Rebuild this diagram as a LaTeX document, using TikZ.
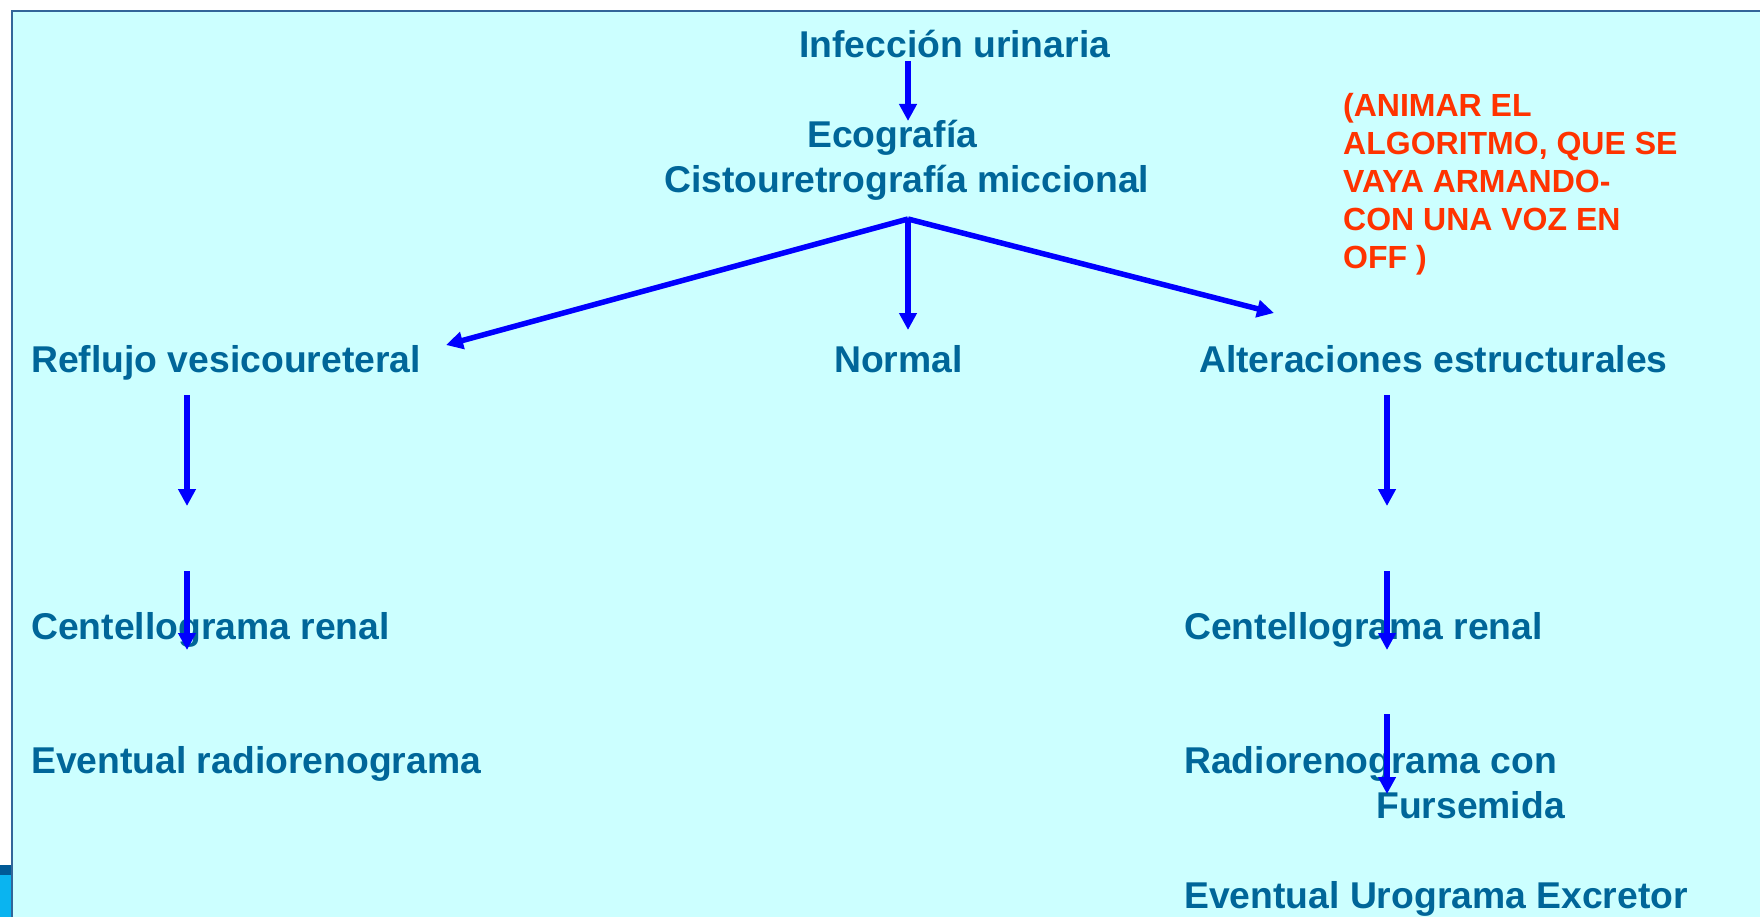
\documentclass[tikz,border=0pt]{standalone}
\usepackage{fontspec}
\setmainfont{Liberation Sans}
\usetikzlibrary{arrows.meta}
\definecolor{bgcyan}{HTML}{CCFFFF}
\definecolor{framecol}{HTML}{336699}
\definecolor{txtblue}{HTML}{006699}
\definecolor{arrblue}{HTML}{0000FF}
\definecolor{notered}{HTML}{FF3300}
\definecolor{fragdark}{HTML}{005A96}
\definecolor{fraglight}{HTML}{0AB4F0}
\begin{document}
\begin{tikzpicture}[x=1pt,y=-1pt,
  lbl/.style={anchor=base west, inner sep=0pt, text=txtblue, font=\fontsize{37.3}{44}\selectfont\bfseries},
  note/.style={anchor=base west, inner sep=0pt, text=notered, font=\fontsize{32}{38}\selectfont\bfseries},
  flow/.style={draw=arrblue, line width=5.5pt, -{Triangle[width=17pt,length=17pt]}}]
\useasboundingbox (0,0) rectangle (1760,917);
\fill[white] (0,0) rectangle (1760,917);
% fragment of neighbouring slide at bottom left
\fill[fragdark] (0,865) rectangle (11,875);
\fill[fraglight] (0,875) rectangle (11,917);
% slide background and frame
\fill[bgcyan] (12,11) rectangle (1760,917);
\draw[framecol, line width=2.2pt] (12,917) -- (12,11) -- (1760,11);

% texts
\node[lbl] (inf) at (799,58) {Infección urinaria};
\node[lbl] (eco) at (807,148) {Ecografía};
\node[lbl] (cisto) at (664,193) {Cistouretrografía miccional};
\node[lbl] (refl) at (31,372) {Reflujo vesicoureteral};
\node[lbl] (normal) at (834,372) {Normal};
\node[lbl] (alter) at (1199,372) {Alteraciones estructurales};
\node[lbl] (centL) at (31,639) {Centellograma renal};
\node[lbl] (evL) at (31,773) {Eventual radiorenograma};
\node[lbl] (centR) at (1184,639) {Centellograma renal};
\node[lbl] (radio) at (1184,773) {Radiorenograma con};
\node[lbl] (furs) at (1376,818) {Fursemida};
\node[lbl] (uro) at (1184,908) {Eventual Urograma Excretor};

\node[note] (n1) at (1343,117) {(ANIMAR EL};
\node[note] (n2) at (1343,155) {ALGORITMO, QUE SE};
\node[note] (n3) at (1343,193) {VAYA ARMANDO-};
\node[note] (n4) at (1343,231) {CON UNA VOZ EN};
\node[note] (n5) at (1343,269) {OFF )};

% connector end points
\coordinate (a1s) at (908,61);
\coordinate (a1e) at (908,121);
\coordinate (apex) at (908,219);
\coordinate (lt) at (446,345);
\coordinate (mt) at (908,330);
\coordinate (rt) at (1274,313);
\coordinate (l2s) at (187,395);
\coordinate (l2e) at (187,506);
\coordinate (l3s) at (187,571);
\coordinate (l3e) at (187,650);
\coordinate (r2s) at (1387,395);
\coordinate (r2e) at (1387,506);
\coordinate (r3s) at (1387,571);
\coordinate (r3e) at (1387,650);
\coordinate (r4s) at (1387,714);
\coordinate (r4e) at (1387,794);

% arrows
\draw[flow] (a1s) -- (a1e);
\draw[flow] (apex) -- (lt);
\draw[flow] (apex) -- (mt);
\draw[flow] (apex) -- (rt);
\draw[flow] (l2s) -- (l2e);
\draw[flow] (l3s) -- (l3e);
\draw[flow] (r2s) -- (r2e);
\draw[flow] (r3s) -- (r3e);
\draw[flow] (r4s) -- (r4e);
\end{tikzpicture}
\end{document}
